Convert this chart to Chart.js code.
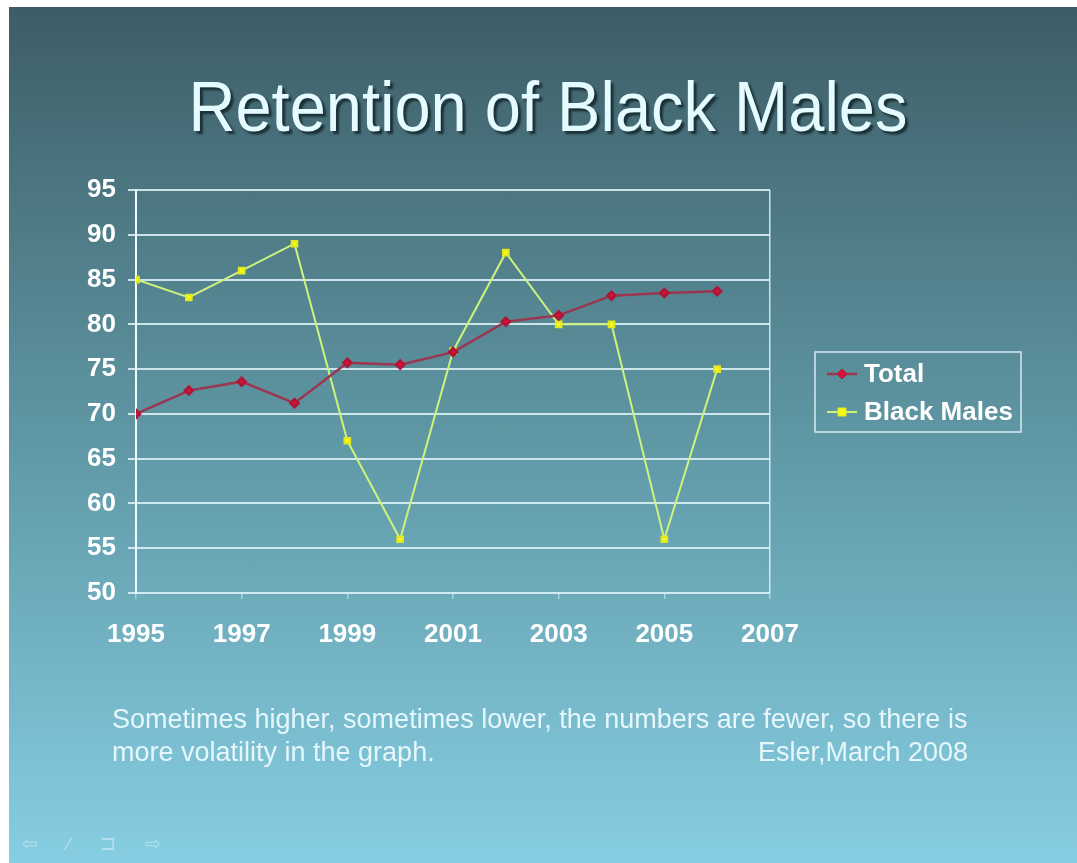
<!DOCTYPE html>
<html>
<head>
<meta charset="utf-8">
<title>Retention of Black Males</title>
<script src="https://cdn.jsdelivr.net/npm/chart.js@4.4.1/dist/chart.umd.min.js"></script>
<style>
  html, body { margin: 0; padding: 0; background: #fff; }
  body { width: 1077px; height: 863px; position: relative; overflow: hidden; font-family: "Liberation Sans", Arial, sans-serif; }
  .slide {
    position: absolute; left: 9px; top: 7px; right: 0; bottom: 0;
    background: linear-gradient(to bottom, #3d5d66 0%, #5f97a4 50%, #86cee3 100%);
  }
  h1 {
    position: absolute; left: 0; width: 1096px; top: 67px; margin: 0;
    text-align: center; font-weight: normal; font-size: 65px; line-height: 80px;
    color: #e4fbff; text-shadow: 3px 3px 2px #1c3138;
    transform: scaleY(1.08);
  }
  .note {
    position: absolute; left: 112px; top: 703px; width: 856px;
    font-size: 27px; line-height: 33px; color: #e6f7fb;
  }
  .note .sig { display: block; text-align: right; margin-top: -33px; }
  .nav { position: absolute; left: 22px; top: 832px; font-size: 19px; color: rgba(255,255,255,0.4); letter-spacing: 12px; }
  #chart { position: absolute; left: 0; top: 0; }
</style>
</head>
<body>
<div class="slide"></div>
<h1>Retention of Black Males</h1>
<canvas id="chart" width="1077" height="863"></canvas>
<div class="note">Sometimes higher, sometimes lower, the numbers are fewer, so there is<br>more volatility in the graph.<span class="sig">Esler,March 2008</span></div>
<div class="nav">⇦ ⁄ ⊐ ⇨</div>
<script>
// Retention rates by year
const years = [1995, 1996, 1997, 1998, 1999, 2000, 2001, 2002, 2003, 2004, 2005, 2006];
const total = [70, 72.6, 73.6, 71.2, 75.7, 75.5, 76.9, 80.3, 81, 83.2, 83.5, 83.7];
const blackMales = [85, 83, 86, 89, 67, 56, 77, 88, 80, 80, 56, 75];
const xTicks = [1995, 1997, 1999, 2001, 2003, 2005, 2007];
const yMin = 50, yMax = 95;

const gridColor = 'rgba(225, 245, 250, 0.85)';
const labelFont = { family: '"Liberation Sans", Arial, sans-serif', size: 26, weight: 'bold' };

const toPoints = vals => vals.map((v, i) => ({ x: years[i], y: v }));

// boxed legend to the right of the plot
const boxLegend = {
  id: 'boxLegend',
  afterDraw(chart) {
    const ctx = chart.ctx;
    const x0 = 815, y0 = 352, w = 206, h = 80;
    ctx.save();
    ctx.strokeStyle = 'rgba(225, 245, 250, 0.9)';
    ctx.lineWidth = 1.5;
    ctx.strokeRect(x0, y0, w, h);
    chart.data.datasets.forEach((ds, i) => {
      const cy = y0 + 22 + i * 38;
      const r = ds.pointRadius;
      ctx.strokeStyle = ds.borderColor;
      ctx.lineWidth = ds.borderWidth;
      ctx.beginPath();
      ctx.moveTo(x0 + 12, cy);
      ctx.lineTo(x0 + 42, cy);
      ctx.stroke();
      ctx.fillStyle = ds.pointBackgroundColor;
      ctx.strokeStyle = ds.pointBorderColor;
      ctx.lineWidth = 1;
      ctx.beginPath();
      if (ds.pointStyle === 'rect') {
        ctx.rect(x0 + 27 - r, cy - r, r * 2, r * 2);
      } else {
        ctx.moveTo(x0 + 27, cy - r - 1);
        ctx.lineTo(x0 + 28 + r, cy);
        ctx.lineTo(x0 + 27, cy + r + 1);
        ctx.lineTo(x0 + 26 - r, cy);
        ctx.closePath();
      }
      ctx.fill();
      ctx.stroke();
      ctx.fillStyle = '#ffffff';
      ctx.font = 'bold 26px "Liberation Sans", Arial, sans-serif';
      ctx.textBaseline = 'middle';
      ctx.fillText(ds.label, x0 + 49, cy + 1);
    });
    ctx.restore();
  }
};

new Chart(document.getElementById('chart').getContext('2d'), {
  type: 'line',
  data: {
    datasets: [{
      label: 'Total',
      data: toPoints(total),
      borderColor: '#9c3550',
      borderWidth: 2.5,
      pointStyle: 'rectRot',
      pointRadius: 4,
      pointBackgroundColor: '#d4153c',
      pointBorderColor: '#b01535',
      tension: 0
    }, {
      label: 'Black Males',
      data: toPoints(blackMales),
      borderColor: '#cdf27e',
      borderWidth: 2,
      pointStyle: 'rect',
      pointRadius: 4,
      pointBackgroundColor: '#f6f81a',
      pointBorderColor: '#e0e820',
      tension: 0
    }]
  },
  options: {
    responsive: false,
    animation: false,
    layout: { padding: { left: 60, top: 190, right: 307, bottom: 210 } },
    plugins: { legend: { display: false }, tooltip: { enabled: false } },
    scales: {
      x: {
        type: 'linear',
        min: 1995,
        max: 2007,
        afterBuildTicks: s => { s.ticks = xTicks.map(v => ({ value: v })); },
        afterFit: s => { s.height = 60; },
        ticks: {
          color: '#ffffff',
          font: labelFont,
          padding: 20,
          maxRotation: 0,
          callback: v => String(v)
        },
        grid: {
          color: c => (c.index === 0 || c.index === xTicks.length - 1) ? gridColor : 'transparent',
          tickColor: 'rgba(225, 245, 250, 0.5)',
          tickLength: 6,
          lineWidth: 1.5
        },
        border: { display: false }
      },
      y: {
        min: yMin,
        max: yMax,
        afterFit: s => { s.width = 76; },
        ticks: { stepSize: 5, color: '#ffffff', font: labelFont, padding: 12 },
        grid: { color: gridColor, lineWidth: 2, tickLength: 8 },
        border: { color: '#f2fbff', width: 2 }
      }
    }
  },
  plugins: [boxLegend]
});
</script>
</body>
</html>
